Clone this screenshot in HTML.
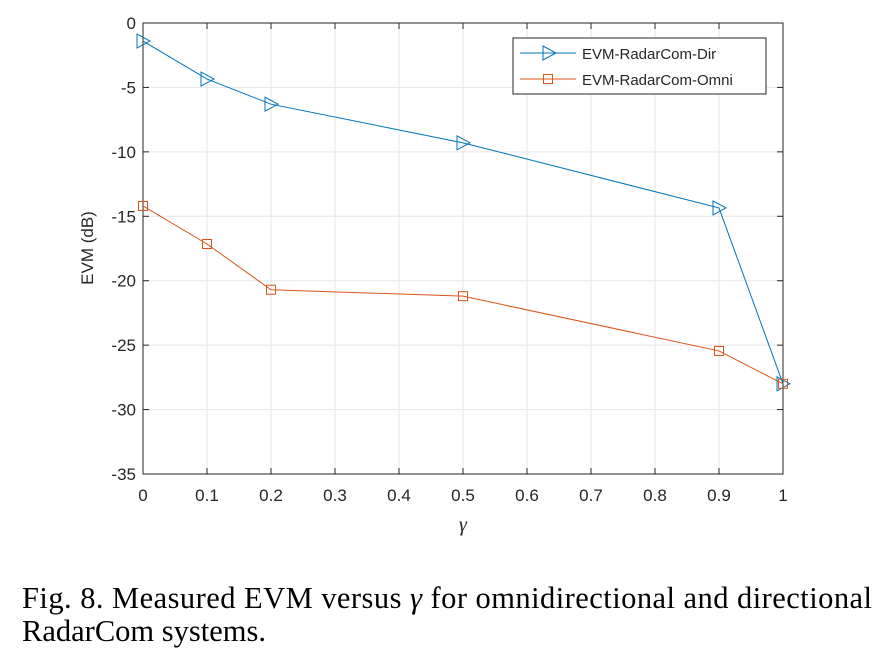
<!DOCTYPE html>
<html><head><meta charset="utf-8"><style>
body{margin:0;background:#fff;width:885px;height:662px;overflow:hidden}
svg{display:block}
.t{font-family:"Liberation Sans",sans-serif;font-size:17px;fill:#262626}
.cap{font-family:"Liberation Serif",serif;font-size:30.5px;fill:#000}
</style></head><body>
<svg id="c" width="885" height="662">
<g id="grid"></g>
<g id="axes"></g>
<g id="series"></g>
<text class="t" x="463" y="531" text-anchor="middle" style="font-family:'Liberation Serif',serif;font-style:italic;font-size:20px">γ</text>
<text class="t" x="93" y="248" text-anchor="middle" transform="rotate(-90 93 248)">EVM (dB)</text>
<g>
<rect x="513" y="38" width="253" height="56" fill="#fff" stroke="#262626" stroke-width="1"/>
<g>
<line x1="520" y1="53" x2="576" y2="53" stroke="#0072BD" stroke-width="1"/>
<path d="M543,46 L556,53 L543,60 Z" fill="none" stroke="#0072BD"/>
<text class="t" x="582" y="59" style="font-size:15px">EVM-RadarCom-Dir</text></g>
<g>
<line x1="520" y1="79" x2="576" y2="79" stroke="#D95319" stroke-width="1"/>
<rect x="543.5" y="74.5" width="9" height="9" fill="none" stroke="#D95319"/>
<text class="t" x="582" y="85" style="font-size:15px">EVM-RadarCom-Omni</text></g>
</g>
<text class="cap" x="22" y="608" textLength="850" lengthAdjust="spacing">Fig. 8. Measured EVM versus <tspan font-style="italic">γ</tspan> for omnidirectional and directional</text>
<text class="cap" x="22" y="641">RadarCom systems.</text>
</svg>
<script>
const gammaValues=[0,0.1,0.2,0.5,0.9,1];
const evmDir=[-1.4,-4.35,-6.3,-9.3,-14.35,-28.0];
const evmOmni=[-14.2,-17.15,-20.7,-21.2,-25.45,-28.0];
const xTicks=[0,0.1,0.2,0.3,0.4,0.5,0.6,0.7,0.8,0.9,1];
const yTicks=[0,-5,-10,-15,-20,-25,-30,-35];
const L=143,R=783,T=23,B=474;
const xs=v=>L+(v-0)/(1-0)*(R-L);
const ys=v=>T+(0-v)/35*(B-T);
const NS="http://www.w3.org/2000/svg";
function mk(tag,attrs,parent){const e=document.createElementNS(NS,tag);for(const k in attrs)e.setAttribute(k,attrs[k]);parent.appendChild(e);return e;}
const grid=document.getElementById('grid'),axes=document.getElementById('axes'),ser=document.getElementById('series');
mk('rect',{x:L,y:T,width:R-L,height:B-T,fill:'#fff'},grid);
xTicks.forEach(v=>{const x=xs(v);
 const g=mk('line',{x1:x,y1:T,x2:x,y2:B,stroke:'#e6e6e6'},grid);
 
 
 mk('line',{x1:x,y1:B,x2:x,y2:B-6,stroke:'#262626'},axes);
 mk('line',{x1:x,y1:T,x2:x,y2:T+6,stroke:'#262626'},axes);
 const t=mk('text',{x:x,y:B+27,'text-anchor':'middle',class:'t'},axes);t.textContent=v;
 
 });
yTicks.forEach(v=>{const y=ys(v);
 const g=mk('line',{x1:L,y1:y,x2:R,y2:y,stroke:'#e6e6e6'},grid);
 
 
 mk('line',{x1:L,y1:y,x2:L+6,y2:y,stroke:'#262626'},axes);
 mk('line',{x1:R,y1:y,x2:R-6,y2:y,stroke:'#262626'},axes);
 const t=mk('text',{x:L-7,y:y+6,'text-anchor':'end',class:'t'},axes);t.textContent=v;
 
 });
mk('rect',{x:L,y:T,width:R-L,height:B-T,fill:'none',stroke:'#262626'},axes);
function line(vals,color,name){
 const p=mk('polyline',{points:gammaValues.map((g,i)=>xs(g)+','+ys(vals[i])).join(' '),fill:'none',stroke:color,'stroke-width':1},ser);
 
 
}
line(evmDir,'#0072BD','dir');line(evmOmni,'#D95319','omni');
gammaValues.forEach((g,i)=>{const x=xs(g),y=ys(evmDir[i]);
 const m=mk('path',{d:`M${x-6},${y-7} L${x+7},${y} L${x-6},${y+7} Z`,fill:'none',stroke:'#0072BD'},ser);
 
 });
gammaValues.forEach((g,i)=>{const x=xs(g),y=ys(evmOmni[i]);
 const m=mk('rect',{x:x-4.5,y:y-4.5,width:9,height:9,fill:'none',stroke:'#D95319'},ser);
 
 });
</script>
</body></html>
